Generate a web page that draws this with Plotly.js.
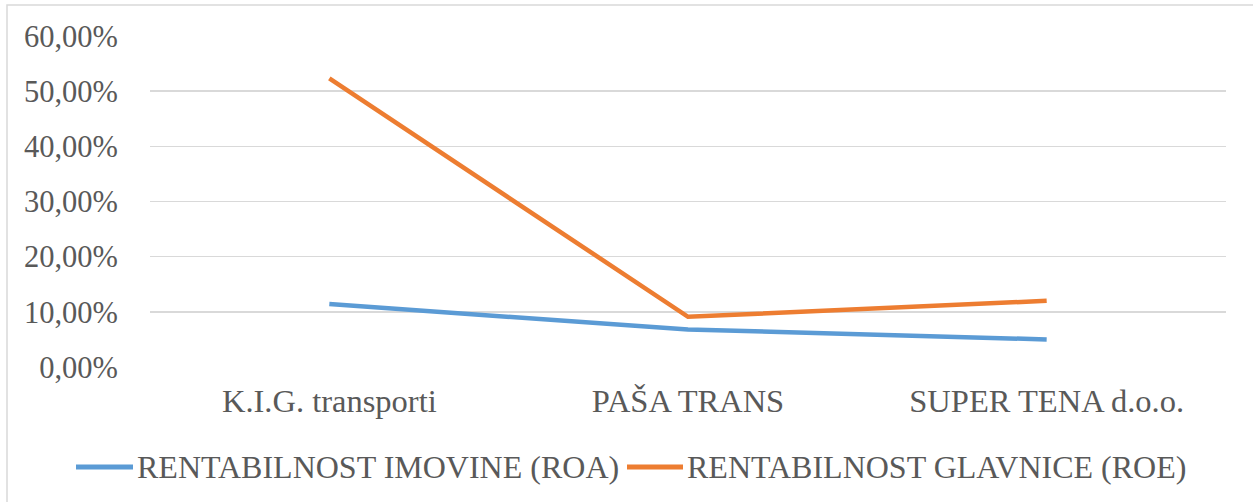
<!DOCTYPE html>
<html>
<head>
<meta charset="utf-8">
<script src="https://cdn.plot.ly/plotly-3.0.1.min.js"></script>
<style>
html,body{margin:0;padding:0;background:#fff;}
#chart{width:1253px;height:502px;}
</style>
</head>
<body>
<div id="chart"></div>
<script>
const categories = ["K.I.G. transporti", "PAŠA TRANS", "SUPER TENA d.o.o."];
const roa = [0.114, 0.068, 0.050];
const roe = [0.523, 0.091, 0.120];
const seriesNames = ["RENTABILNOST IMOVINE (ROA)", "RENTABILNOST GLAVNICE (ROE)"];
const seriesColors = ["#5b9bd5", "#ed7d31"];
const yTicks = [0, 0.1, 0.2, 0.3, 0.4, 0.5, 0.6];

const FAM = "Liberation Serif";
const GREY = "#595959";
const W = 1253, H = 502;
const M = {l: 150, r: 27, t: 36, b: 135};
const PW = W - M.l - M.r, PH = H - M.t - M.b;
const px = x => (x - M.l) / PW;
const py = y => (H - M.b - y) / PH;

const traces = [
  {x: categories, y: roa, name: seriesNames[0], type: "scatter", mode: "lines",
   line: {color: seriesColors[0], width: 4.5}, showlegend: false},
  {x: categories, y: roe, name: seriesNames[1], type: "scatter", mode: "lines",
   line: {color: seriesColors[1], width: 4.5}, showlegend: false}
];

const legendY = 467;
const legendItems = [
  {x0: 76, x1: 133, tx: 135},
  {x0: 627, x1: 683, tx: 685}
];
const shapes = [{
  type: "rect", xref: "paper", yref: "paper",
  x0: px(7), x1: px(1300), y0: py(560), y1: py(5),
  line: {color: "#d9d9d9", width: 1.5}, fillcolor: "rgba(0,0,0,0)", layer: "below"
}];
const annotations = [];
legendItems.forEach((it, i) => {
  shapes.push({type: "line", xref: "paper", yref: "paper",
    x0: px(it.x0), x1: px(it.x1), y0: py(legendY), y1: py(legendY),
    line: {color: seriesColors[i], width: 5}});
  annotations.push({xref: "paper", yref: "paper", x: px(it.tx), y: py(legendY),
    xanchor: "left", yanchor: "middle", showarrow: false, text: seriesNames[i],
    font: {family: FAM, size: 32, color: GREY}});
});

const layout = {
  width: W, height: H,
  margin: M,
  paper_bgcolor: "#ffffff", plot_bgcolor: "#ffffff",
  separators: ",.",
  font: {family: FAM, size: 30.5, color: GREY},
  showlegend: false,
  xaxis: {
    type: "category",
    range: [-0.5, 2.5],
    showgrid: false, zeroline: false, showline: false,
    ticks: "", tickangle: 0, ticklabelstandoff: 11,
    tickfont: {family: FAM, size: 32.5, color: GREY},
    automargin: false, fixedrange: true
  },
  yaxis: {
    range: [0, 0.6],
    tickvals: yTicks,
    tickformat: ".2%",
    showgrid: true, gridcolor: "#d9d9d9", gridwidth: 1.5,
    zeroline: false, showline: false, ticks: "",
    ticklabelstandoff: 31,
    tickfont: {family: FAM, size: 30.5, color: GREY},
    automargin: false, fixedrange: true
  },
  shapes: shapes,
  annotations: annotations
};

Plotly.newPlot("chart", traces, layout, {displayModeBar: false, staticPlot: true});
</script>
</body>
</html>
